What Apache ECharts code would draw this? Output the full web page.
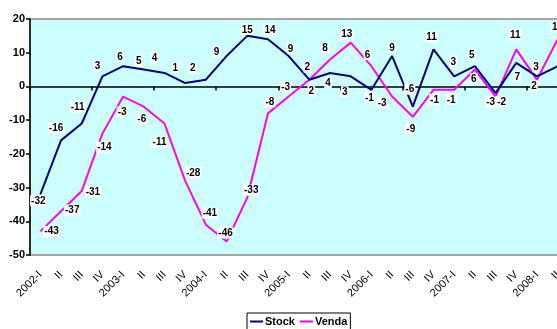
<!DOCTYPE html>
<html>
<head>
<meta charset="utf-8">
<script src="https://cdn.jsdelivr.net/npm/echarts@6/dist/echarts.min.js"></script>
<style>
html,body{margin:0;padding:0;background:#fff;}
#c{width:557px;height:329px;}
</style>
</head>
<body>
<div id="c"></div>
<script>
// ---- data ----
var categories = ['2002-I','II','III','IV','2003-I','II','III','IV','2004-I','II','III','IV',
                  '2005-I','II','III','IV','2006-I','II','III','IV','2007-I','II','III','IV','2008-I','II'];
var stockValues = [-32,-16,-11,3,6,5,4,1,2,9,15,14,9,2,4,3,-1,9,-6,11,3,6,-2,7,3,6];
var vendaValues = [-43,-37,-31,-14,-3,-6,-11,-28,-41,-46,-33,-8,-3,2,8,13,6,-3,-9,-1,-1,5,-3,11,2,14];
var yTicks = {min:-50, max:20, interval:10};

// ---- label placement (style only) ----
var stockLabelPos = ['bottom','top','top','top','top','top','top','top','top','top','top','top','top','top',
                     'bottom','bottom','bottom','top','top','top','top','bottom','bottom','bottom','top','bottom'];
var stockLabelDx = [-2,-5,-4,-5,-3,-5,-10,-10,-13,-10,0,2,2,-2,-2,-6,-2,0,-3,-2,-1,-1,6,1,-1,3];
var stockLabelDy = [-2,-4,-8,-2,-1,0,-7,-7,-3,4,2,-1,1,-4,1,7,-1,0,-9,-4,-6,4,0,5,-1,18];
var vendaLabelPos = ['right','right','right','bottom','bottom','bottom','bottom','top','top','top','top','top','top',
                     'bottom','top','top','top','bottom','bottom','bottom','bottom','top','bottom','top','bottom','top'];
var vendaLabelDx = [0,0,0,2,-1,-2,-5,8,4,-1,4,2,-3,2,-5,-4,-4,-10,-2,1,-3,-3,-5,-1,-3,0];
var vendaLabelDy = [0,-1,1,5,7,4,10,0,-3,0,1,-3,-1,3,-3,0,-3,-2,3,1,1,-6,-3,-6,-2,-4];

function buildData(vals, pos){
  return vals.map(function(v,i){
    return {value:v, label:{position:pos[i]}};
  });
}
function nudge(dx, dy){
  return function(p){ return {dx:dx[p.dataIndex], dy:dy[p.dataIndex], hideOverlap:false}; };
}

var labelStyle = {
  show:true, color:'#000', fontFamily:'Liberation Sans, Arial', fontWeight:'bold', fontSize:10,
  backgroundColor:'#fff', padding:[1,1,0,1], distance:3
};

var chart = echarts.init(document.getElementById('c'));
chart.setOption({
  animation:false,
  backgroundColor:'#fff',
  textStyle:{fontFamily:'Liberation Sans, Arial'},
  grid:{left:30, width:538, top:19, height:236, outerBoundsMode:'none', containLabel:false,
        show:true, backgroundColor:'#CCFFFF', borderColor:'#a6a6a6', borderWidth:2},
  legend:{
    data:['Stock','Venda'], left:247, top:313, orient:'horizontal',
    borderColor:'#000', borderWidth:1, padding:[3,3,8,3], itemGap:5, itemWidth:13, itemHeight:2,
    icon:'rect',
    textStyle:{fontSize:11, fontWeight:'bold', color:'#000', fontFamily:'Liberation Sans, Arial', padding:[0,0,0,-3]}
  },
  xAxis:[
    {type:'category', data:categories, position:'top', boundaryGap:true,
     axisLine:{onZero:true, lineStyle:{color:'#000', width:1.5}},
     axisTick:{show:true, inside:true, length:4, lineStyle:{color:'#000', width:1.5}},
     axisLabel:{show:false}, splitLine:{show:false}},
    {type:'category', data:categories, position:'bottom', boundaryGap:true,
     axisLine:{show:false, onZero:false}, axisTick:{show:false},
     axisLabel:{show:true, rotate:45, interval:0, margin:18, fontSize:11, color:'#000', fontFamily:'Liberation Sans, Arial'},
     splitLine:{show:false}}
  ],
  yAxis:{
    type:'value', min:yTicks.min, max:yTicks.max, interval:yTicks.interval,
    axisLine:{show:true, onZero:false, lineStyle:{color:'#000', width:1.5}},
    axisTick:{show:true, length:4, lineStyle:{color:'#000', width:1.5}},
    axisLabel:{fontSize:11, fontWeight:'bold', color:'#000', margin:5, fontFamily:'Liberation Sans, Arial'},
    splitLine:{show:false}
  },
  series:[
    {name:'Stock', type:'line', xAxisIndex:0, data:buildData(stockValues, stockLabelPos),
     showSymbol:true, symbol:'circle', symbolSize:0, lineStyle:{color:'#000080', width:2}, itemStyle:{color:'#000080'},
     label:labelStyle, labelLayout:nudge(stockLabelDx, stockLabelDy), z:3},
    {name:'Venda', type:'line', xAxisIndex:0, data:buildData(vendaValues, vendaLabelPos),
     showSymbol:true, symbol:'circle', symbolSize:0, lineStyle:{color:'#FF00FF', width:2}, itemStyle:{color:'#FF00FF'},
     label:labelStyle, labelLayout:nudge(vendaLabelDx, vendaLabelDy), z:2}
  ]
});
</script>
</body>
</html>
